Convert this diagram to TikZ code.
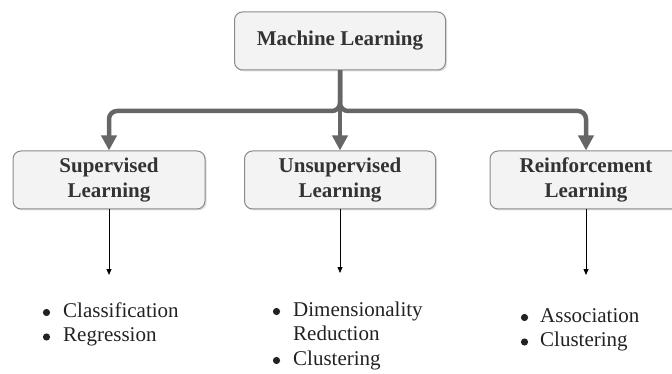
\documentclass[tikz,border=0pt]{standalone}
\usepackage{fontspec}
\setmainfont{Liberation Serif}
\usetikzlibrary{arrows.meta,shadows}
\definecolor{boxfill}{HTML}{F3F3F3}
\definecolor{boxline}{HTML}{8A8A8A}
\definecolor{conn}{HTML}{666666}
\definecolor{txt}{HTML}{333333}
\definecolor{listtxt}{HTML}{222222}
\begin{document}
\begin{tikzpicture}[x=1pt,y=-1pt,
  box/.style={draw=boxline, fill=boxfill, line width=1pt, rounded corners=8pt,
    drop shadow={shadow xshift=1.5pt, shadow yshift=-1.5pt, opacity=0.25},
    minimum height=58pt, align=center, text=txt,
    font=\fontsize{21}{25}\selectfont\bfseries},
  thickconn/.style={draw=conn, line width=4.5pt, rounded corners=8pt,
    -{Triangle[width=15pt,length=15pt]}},
  thinarrow/.style={draw=black, line width=0.8pt, -{Triangle[width=5pt,length=6pt]}},
  listnode/.style={anchor=base west, inner sep=0pt, text=listtxt,
    font=\fontsize{21}{24.5}\selectfont},
  bul/.style={fill=listtxt}
]
\useasboundingbox (0,0) rectangle (672,374);
\begin{scope}
\clip (0,0) rectangle (672,374);
\node[box, minimum width=211pt] (ml) at (340,41) {Machine Learning};
\node[box, minimum width=192pt] (sup) at (109,180) {Supervised\\Learning};
\node[box, minimum width=191pt] (uns) at (340,180) {Unsupervised\\Learning};
\node[box, minimum width=192pt] (rei) at (586,180) {Reinforcement\\Learning};
\end{scope}
\coordinate (jn) at (340,111);
\draw[thickconn] (ml.south) -- (jn) -- (jn -| sup.north) -- (sup.north);
\draw[thickconn] (ml.south) -- (jn) -- (jn -| rei.north) -- (rei.north);
\draw[thickconn] (ml.south) -- (uns.north);
\coordinate (e1) at (109,275);
\coordinate (e2) at (340,273);
\coordinate (e3) at (586,275);
\draw[thinarrow] (sup.south) -- (e1);
\draw[thinarrow] (uns.south) -- (e2);
\draw[thinarrow] (rei.south) -- (e3);
\node[listnode] (l1) at (63,317) {\begin{tabular}[t]{@{}l@{}}Classification\\Regression\end{tabular}};
\node[listnode] (l2) at (293,316) {\begin{tabular}[t]{@{}l@{}}Dimensionality\\Reduction\\Clustering\end{tabular}};
\node[listnode] (l3) at (540,322) {\begin{tabular}[t]{@{}l@{}}Association\\Clustering\end{tabular}};
\fill[bul] (46.5,312.5) circle (3.6pt) (46.5,337) circle (3.6pt);
\fill[bul] (276.5,311.5) circle (3.6pt) (276.5,360.5) circle (3.6pt);
\fill[bul] (524.5,317.5) circle (3.6pt) (524.5,342) circle (3.6pt);
\end{tikzpicture}
\end{document}
